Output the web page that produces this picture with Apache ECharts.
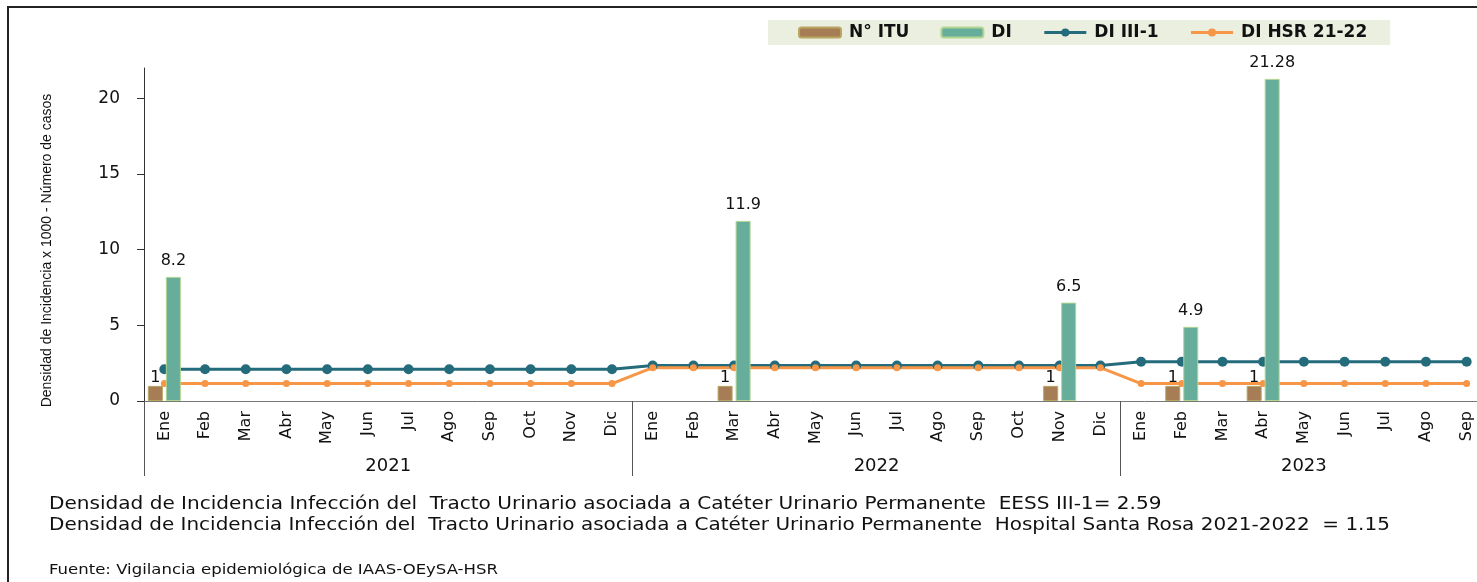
<!DOCTYPE html>
<html><head><meta charset="utf-8">
<script src="https://cdn.jsdelivr.net/npm/echarts@6/dist/echarts.min.js"></script>
<style>html,body{margin:0;padding:0;background:#fff}#c{width:1477px;height:582px}</style>
</head><body><div id="c"></div>
<script>
// ---- data ----
const monthNames = ['Ene','Feb','Mar','Abr','May','Jun','Jul','Ago','Sep','Oct','Nov','Dic'];
const years = ['2021','2022','2023'];
const monthsPerYear = [12, 12, 9];
const yTicks = [0, 5, 10, 15, 20];

const ituValues = [1,null,null,null,null,null,null,null,null,null,null,null,
                   null,null,1,null,null,null,null,null,null,null,1,null,
                   null,1,null,1,null,null,null,null,null];
const diValues  = [8.2,null,null,null,null,null,null,null,null,null,null,null,
                   null,null,11.9,null,null,null,null,null,null,null,6.5,null,
                   null,4.9,null,21.28,null,null,null,null,null];
const diIII1 = [2.1,2.1,2.1,2.1,2.1,2.1,2.1,2.1,2.1,2.1,2.1,2.1,
                2.35,2.35,2.35,2.35,2.35,2.35,2.35,2.35,2.35,2.35,2.35,2.35,
                2.59,2.59,2.59,2.59,2.59,2.59,2.59,2.59,2.59];
const diHSR  = [1.15,1.15,1.15,1.15,1.15,1.15,1.15,1.15,1.15,1.15,1.15,1.15,
                2.2,2.2,2.2,2.2,2.2,2.2,2.2,2.2,2.2,2.2,2.2,2.2,
                1.15,1.15,1.15,1.15,1.15,1.15,1.15,1.15,1.15];

const seriesNames = ['N° ITU','DI','DI III-1','DI HSR 21-22'];
const footLine1 = 'Densidad de Incidencia Infección del  Tracto Urinario asociada a Catéter Urinario Permanente  EESS III-1= 2.59';
const footLine2 = 'Densidad de Incidencia Infección del  Tracto Urinario asociada a Catéter Urinario Permanente  Hospital Santa Rosa 2021-2022  = 1.15';
const source = 'Fuente: Vigilancia epidemiológica de IAAS-OEySA-HSR';

// ---- derived ----
const categories = [];
const yearStarts = [];
const yearCenters = [];
let acc = 0;
monthsPerYear.forEach((n, i) => {
  yearStarts.push(acc);
  yearCenters.push(acc + n / 2);
  for (let m = 0; m < n; m++) categories.push(monthNames[m]);
  acc += n;
});
const total = acc;

const verd = "'DejaVu Sans', sans-serif";
const arial = "'Liberation Sans', Arial, sans-serif";
const colBlue = '#246b7c', colOrange = '#f79646';

const chart = echarts.init(document.getElementById('c'));
chart.setOption({
  animation: false,
  backgroundColor: '#ffffff',
  grid: { left: 144, top: 68, width: 1343, height: 333, containLabel: false, outerBoundsMode: 'none' },
  legend: {
    data: [
      { name: seriesNames[0] },
      { name: seriesNames[1] },
      { name: seriesNames[2], lineStyle: { width: 3 }, itemStyle: { color: colBlue } },
      { name: seriesNames[3], lineStyle: { width: 3 }, itemStyle: { color: colOrange } }
    ],
    left: 768, top: 20,
    padding: [4, 23, 4, 30],
    itemGap: 31,
    itemWidth: 42, itemHeight: 10,
    backgroundColor: '#ebefe0',
    textStyle: { fontFamily: verd, fontWeight: 'bold', fontSize: 17, color: '#111', padding: [0,0,0,3] }
  },
  xAxis: [{
    type: 'category',
    data: categories,
    boundaryGap: true,
    axisLine: { lineStyle: { color: '#777', width: 1 } },
    axisTick: { show: false },
    axisLabel: { rotate: 90, interval: 0, margin: 10, fontFamily: verd, fontSize: 16, color: '#111' }
  }, {
    type: 'value',
    position: 'bottom',
    min: 0, max: total,
    axisLine: { show: false },
    splitLine: { show: false },
    axisTick: { show: true, customValues: yearStarts, length: 75, lineStyle: { color: '#555', width: 1 } },
    axisLabel: {
      customValues: yearCenters, margin: 56, fontFamily: verd, fontSize: 18, color: '#111',
      formatter: v => { const i = yearCenters.indexOf(v); return i >= 0 ? years[i] : ''; }
    }
  }],
  yAxis: {
    type: 'value', min: 0, max: 22,
    axisLine: { show: true, lineStyle: { color: '#333' } },
    splitLine: { show: false },
    axisTick: { show: true, customValues: yTicks, length: 7, lineStyle: { color: '#333' } },
    axisLabel: { customValues: yTicks, margin: 24, fontFamily: verd, fontSize: 17, color: '#111' },
    name: 'Densidad de Incidencia x 1000 - Número de casos',
    nameLocation: 'middle', nameRotate: 90, nameGap: 90,
    nameTextStyle: { fontFamily: arial, fontSize: 14, color: '#111', padding: [0, 32, 0, 0] }
  },
  series: [{
    name: seriesNames[0], type: 'bar', data: ituValues, z: 3,
    barWidth: 15, barGap: '20%',
    itemStyle: { color: '#a67d55', borderColor: '#b8a560', borderWidth: 1 },
    label: { show: true, position: 'top', distance: 0, fontFamily: verd, fontSize: 16, color: '#111' }
  }, {
    name: seriesNames[1], type: 'bar', data: diValues, z: 3,
    barWidth: 15,
    itemStyle: { color: '#66ad9b', borderColor: '#b2d592', borderWidth: 1 },
    label: { show: true, position: 'top', distance: 8, fontFamily: verd, fontSize: 16, color: '#111' }
  }, {
    name: seriesNames[2], type: 'line', data: diIII1, z: 2,
    symbol: 'circle', symbolSize: 10,
    lineStyle: { color: colBlue, width: 3 },
    itemStyle: { color: colBlue }
  }, {
    name: seriesNames[3], type: 'line', data: diHSR, z: 2,
    symbol: 'circle', symbolSize: 7,
    lineStyle: { color: colOrange, width: 3 },
    itemStyle: { color: colOrange }
  }],
  graphic: [
    { type: 'rect', shape: { x: 8, y: 7, width: 1600, height: 700 }, style: { fill: null, stroke: '#222', lineWidth: 2 }, silent: true },
    { type: 'text', x: 49, y: 496, scaleX: 1.18, style: { text: footLine1, font: "17px 'DejaVu Sans'", fill: '#111', verticalAlign: 'top' } },
    { type: 'text', x: 49, y: 517, scaleX: 1.175, style: { text: footLine2, font: "17px 'DejaVu Sans'", fill: '#111', verticalAlign: 'top' } },
    { type: 'text', x: 49, y: 563, scaleX: 1.18, style: { text: source, font: "14px 'DejaVu Sans'", fill: '#111', verticalAlign: 'top' } }
  ]
});
</script>
</body></html>
